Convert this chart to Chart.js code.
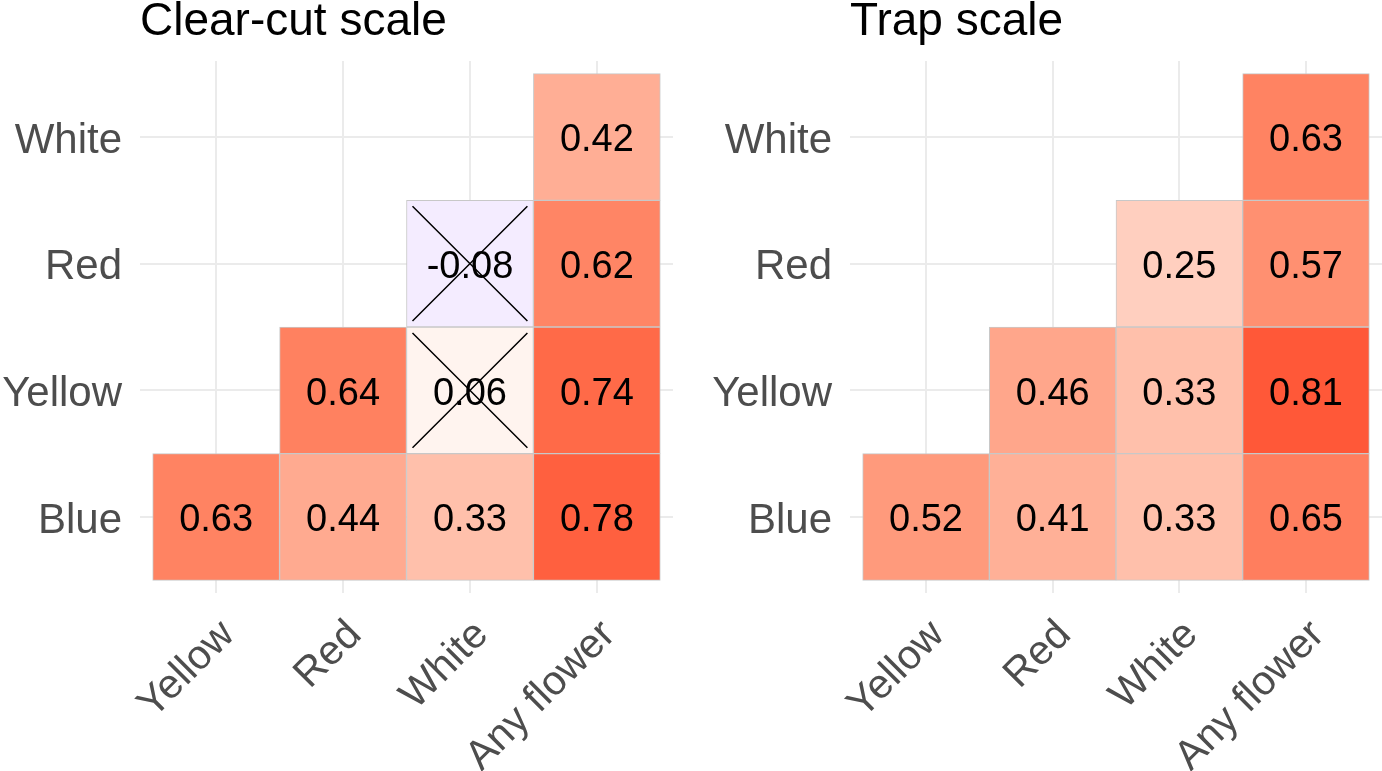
<!DOCTYPE html>
<html>
<head>
<meta charset="utf-8">
<script src="https://cdn.jsdelivr.net/npm/chart.js@4.4.1/dist/chart.umd.min.js"></script>
<style>
  body{ margin:0; background:#ffffff; }
  .panel{ position:absolute; top:0; }
</style>
</head>
<body>
<div class="panel" style="left:0px"><canvas id="clearcut" width="690" height="771"></canvas></div>
<div class="panel" style="left:690px"><canvas id="trap" width="692" height="771"></canvas></div>
<script>

// rows bottom -> top, columns left -> right
const rowCats = ['Blue', 'Yellow', 'Red', 'White']
const colCats = ['Yellow', 'Red', 'White', 'Any flower']

// one inner array per row (Blue, Yellow, Red, White), null = empty cell
const clearCutValues = [
      [0.63, 0.44, 0.33, 0.78],
      [null, 0.64, 0.06, 0.74],
      [null, null, -0.08, 0.62],
      [null, null, null, 0.42],
]
const clearCutCrossed = [
      [false, false, false, false],
      [false, false, true, false],
      [false, false, true, false],
      [false, false, false, false],
]

const trapValues = [
      [0.52, 0.41, 0.33, 0.65],
      [null, 0.46, 0.33, 0.81],
      [null, null, 0.25, 0.57],
      [null, null, null, 0.63],
]
const trapCrossed = [
      [false, false, false, false],
      [false, false, false, false],
      [false, false, false, false],
      [false, false, false, false],
]

Chart.defaults.font.family = "'Liberation Sans', Arial, sans-serif"


//---- colour scale: blue - white - red, interpolated in Lab, limits -1..1
function toLab(r, g, b){
      const lin = c => { c /= 255; return c <= 0.04045 ? c/12.92 : Math.pow((c+0.055)/1.055, 2.4) }
      const R = lin(r), G = lin(g), B = lin(b)
      let X = (0.4124*R + 0.3576*G + 0.1805*B)/0.95047
      let Y = (0.2126*R + 0.7152*G + 0.0722*B)
      let Z = (0.0193*R + 0.1192*G + 0.9505*B)/1.08883
      const f = t => t > 0.008856 ? Math.cbrt(t) : 7.787*t + 16/116
      const fx = f(X), fy = f(Y), fz = f(Z)
      return [116*fy - 16, 500*(fx - fy), 200*(fy - fz)]
}
function fromLab(L, a, b){
      const fy = (L+16)/116, fx = fy + a/500, fz = fy - b/200
      const inv = t => { const t3 = t*t*t; return t3 > 0.008856 ? t3 : (t - 16/116)/7.787 }
      const X = inv(fx)*0.95047, Y = inv(fy), Z = inv(fz)*1.08883
      let R =  3.2406*X - 1.5372*Y - 0.4986*Z
      let G = -0.9689*X + 1.8758*Y + 0.0415*Z
      let B =  0.0557*X - 0.2040*Y + 1.0570*Z
      const gam = c => { c = Math.min(1, Math.max(0, c)); return Math.round(255*(c <= 0.0031308 ? 12.92*c : 1.055*Math.pow(c, 1/2.4) - 0.055)) }
      return `rgb(${gam(R)},${gam(G)},${gam(B)})`
}
const labWhite = toLab(255,255,255)
const labRed   = toLab(255,0,0)
const labBlue  = toLab(0,0,255)

function fillColor(v){
      const end = v >= 0 ? labRed : labBlue
      const t = Math.min(1, Math.abs(v))
      return fromLab( labWhite[0] + (end[0]-labWhite[0])*t,
                      labWhite[1] + (end[1]-labWhite[1])*t,
                      labWhite[2] + (end[2]-labWhite[2])*t )
}


//---- values + crosses drawn on top of the cells
const cellLabels = {
      id: 'cellLabels',
      afterDatasetsDraw(chart){
            const ctx = chart.ctx
            const meta = chart.getDatasetMeta(0)
            const ds = chart.data.datasets[0]
            ctx.save()
            meta.data.forEach((bar, i)=>{
                  const cell = ds.data[i]
                  const top = Math.min(bar.y, bar.base), bottom = Math.max(bar.y, bar.base)
                  const left = bar.x - bar.width/2, right = bar.x + bar.width/2
                  ctx.fillStyle = '#000000'
                  ctx.font = "38px 'Liberation Sans', Arial, sans-serif"
                  ctx.textAlign = 'center'
                  ctx.textBaseline = 'middle'
                  ctx.fillText(cell.v.toFixed(2), bar.x, (top+bottom)/2 + 4)
                  if(cell.crossed){
                        const p = 6
                        ctx.strokeStyle = '#000000'
                        ctx.lineWidth = 1.5
                        ctx.beginPath()
                        ctx.moveTo(left+p, top+p);  ctx.lineTo(right-p, bottom-p)
                        ctx.moveTo(right-p, top+p); ctx.lineTo(left+p, bottom-p)
                        ctx.stroke()
                  }
            })
            ctx.restore()
      }
}


function buildCells(values, crossed){
      const cells = []
      values.forEach((row, r)=>{
            row.forEach((v, c)=>{
                  if(v === null){ return }
                  cells.push({ x: c+1, y: [r+0.5, r+1.5], v: v, crossed: crossed[r][c] })
            })
      })
      return cells
}


function createHeatmap(canvasId, title, values, crossed, yAxisWidth, rightPad){

      const cells = buildCells(values, crossed)

      const setup = {
            type: 'bar',
            data: {
                  datasets: [{
                        data: cells,
                        backgroundColor: cells.map(c => fillColor(c.v)),
                        borderColor: '#c8c8c8',
                        borderWidth: 1,
                        borderSkipped: false,
                        barPercentage: 1,
                        categoryPercentage: 1,
                  }]
            },
            options: {
                  responsive: false,
                  animation: false,
                  events: [],
                  layout: { padding: { left: 0, right: rightPad, top: 0, bottom: 0 } },
                  plugins: {
                        legend: { display: false },
                        tooltip: { enabled: false },
                        title: {
                              display: true,
                              text: title,
                              align: 'start',
                              fullSize: false,
                              color: '#000000',
                              font: { size: 46, weight: 'normal', lineHeight: 0.9 },
                              padding: { top: 2, bottom: 17.6 },
                        },
                  },
                  scales: {
                        x: {
                              type: 'linear',
                              min: 0.4, max: 4.6,
                              bounds: 'data',
                              offset: false,
                              afterBuildTicks: s => { s.ticks = colCats.map((c, i) => ({ value: i+1 })) },
                              afterFit: s => { s.height = 178 },
                              border: { display: false },
                              grid: { color: '#ebebeb', lineWidth: 2, drawTicks: false, offset: false },
                              ticks: {
                                    autoSkip: false,
                                    minRotation: 45, maxRotation: 45,
                                    padding: 18,
                                    labelOffset: 12,
                                    color: '#4d4d4d',
                                    font: { size: 41 },
                                    callback: v => colCats[v-1],
                              },
                        },
                        y: {
                              type: 'linear',
                              min: 0.4, max: 4.6,
                              bounds: 'data',
                              afterBuildTicks: s => { s.ticks = rowCats.map((c, i) => ({ value: i+1 })) },
                              afterFit: s => { s.width = yAxisWidth },
                              border: { display: false },
                              grid: { color: '#ebebeb', lineWidth: 2, drawTicks: false },
                              ticks: {
                                    autoSkip: false,
                                    padding: 18,
                                    labelOffset: 4,
                                    color: '#4d4d4d',
                                    font: { size: 42 },
                                    callback: v => rowCats[v-1],
                              },
                        },
                  },
            },
            plugins: [cellLabels],
      }

      return new Chart(document.getElementById(canvasId), setup)
}


createHeatmap('clearcut', 'Clear-cut scale', clearCutValues, clearCutCrossed, 140, 17)
createHeatmap('trap',     'Trap scale',      trapValues,     trapCrossed,     160, 0)

</script>
</body>
</html>
